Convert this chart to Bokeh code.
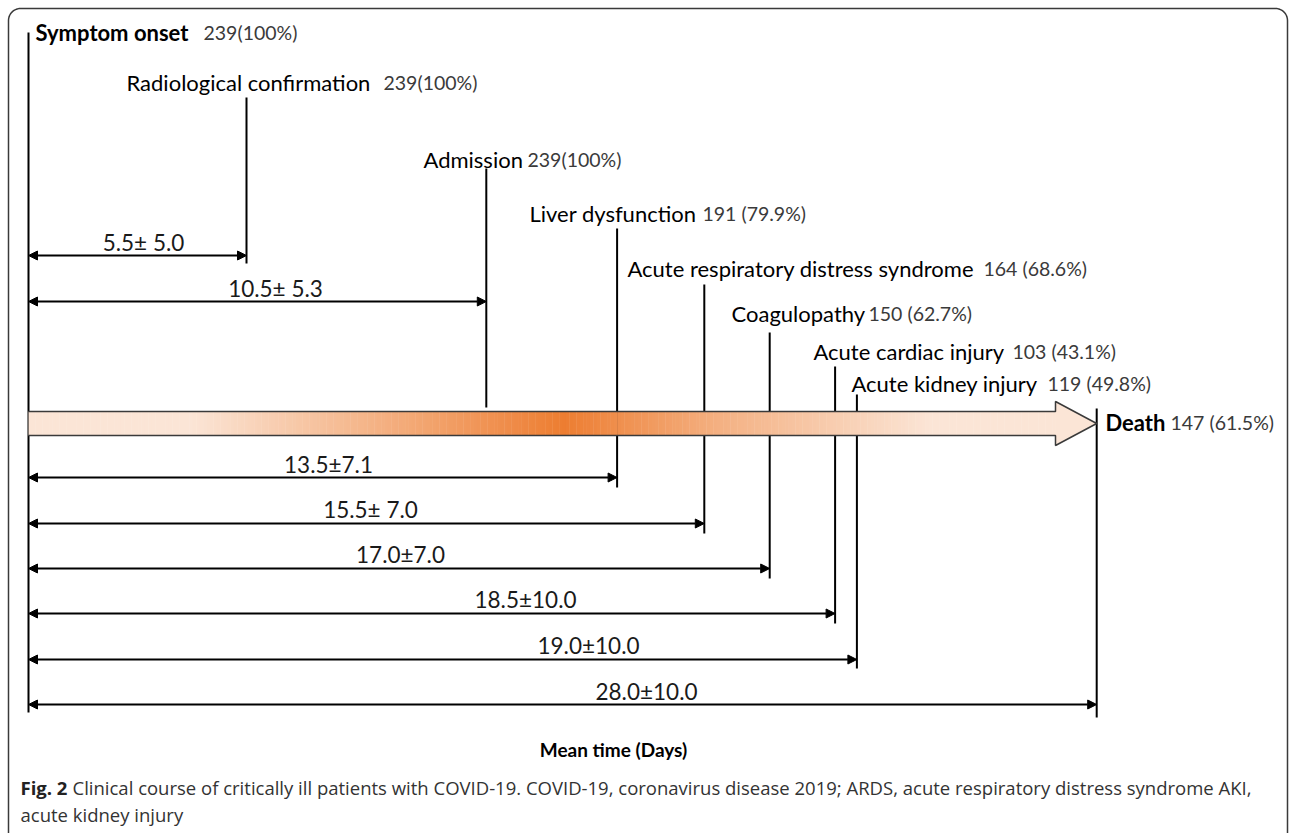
import numpy as np
from bokeh.plotting import figure
from bokeh.models import Range1d, ColumnDataSource, Arrow, NormalHead
from bokeh.core.properties import value
from bokeh.embed import file_html
from bokeh.resources import INLINE

# ---------------- data ----------------
events = ["Symptom onset", "Radiological confirmation", "Admission", "Liver dysfunction",
          "Acute respiratory distress syndrome", "Coagulopathy", "Acute cardiac injury",
          "Acute kidney injury", "Death"]
event_counts = ["239(100%)", "239(100%)", "239(100%)", "191 (79.9%)", "164 (68.6%)",
                "150 (62.7%)", "103 (43.1%)", "119 (49.8%)", "147 (61.5%)"]
mean_days = [0.0, 5.5, 10.5, 13.5, 15.5, 17.0, 18.5, 19.0, 28.0]
sd_days = [0.0, 5.0, 5.3, 7.1, 7.0, 7.0, 10.0, 10.0, 10.0]
interval_labels = ["5.5\u00b1 5.0", "10.5\u00b1 5.3", "13.5\u00b17.1", "15.5\u00b1 7.0",
                   "17.0\u00b17.0", "18.5\u00b110.0", "19.0\u00b110.0", "28.0\u00b110.0"]
# where each event sits on the (schematic, not to scale) drawn time line, in days
timeline_day = [0.0, 5.0, 10.5, 13.5, 15.5, 17.0, 18.5, 19.0, 24.5]
x_title = "Mean time (Days)"
caption_bold = "Fig. 2"
caption_l1 = ("Clinical course of critically ill patients with COVID-19. COVID-19, coronavirus "
              "disease 2019; ARDS, acute respiratory distress syndrome AKI,")
caption_l2 = "acute kidney injury"

# ---------------- layout (page pixels) ----------------
W, H = 1290, 833
PX0, PXD = 28.0, 43.6          # page x of day 0, pixels per drawn day
TDY = -8                       # text baseline correction


def d(px):
    return (px - PX0) / PXD


line_top = [32, 97, 168, 228, 284, 332, 366, 394, 408]
line_bot = [712, 263, 407, 487, 533, 578, 623, 668, 717]
label_x = [35, 126, 423, 529, 627, 731, 813, 851, 1105]
label_y = [40, 90, 167, 221, 276, 321, 359, 391, 430]
count_x = [203, 383, 527, 702, 983, 868, 1012, 1047, 1170]
arrow_y = [255, 301, 477, 523, 568, 613, 659, 704]
ilab_x = [143, 275, 328, 370, 400, 525, 588, 646]
ilab_y = [250, 296, 472, 517, 562, 607, 653, 699]

FONT = "Lato"

p = figure(width=W, height=H, output_backend="svg", toolbar_location=None,
           x_range=Range1d(d(0), d(W)), y_range=Range1d(H, 0),
           min_border=0, outline_line_color=None)
p.axis.visible = False
p.grid.visible = False
p.background_fill_color = "white"
p.border_fill_color = "white"

# rounded frame
r = 12
bx0, bx1, by0, by1 = 8, 1287, 8, 850
t = np.linspace(np.pi, 1.5 * np.pi, 12)
fx = [bx0, bx0] + list(bx0 + r + r * np.cos(t)) + [bx1 - r]
fy = [by1, by0 + r] + list(by0 + r + r * np.sin(t)) + [by0]
t2 = np.linspace(1.5 * np.pi, 2 * np.pi, 12)
fx += list(bx1 - r + r * np.cos(t2)) + [bx1]
fy += list(by0 + r + r * np.sin(t2)) + [by1]
p.line([d(v) for v in fx], fy, line_color="#3a3a3a", line_width=1.5)

# vertical event lines
ev = ColumnDataSource(dict(x=timeline_day, y0=line_top, y1=line_bot))
p.segment(x0="x", y0="y0", x1="x", y1="y1", source=ev, line_color="black", line_width=2)

# big gradient arrow
stops_px = [28, 190, 380, 563, 720, 930, 1097]
stops_col = ["#FBE5D6", "#FBE5D6", "#F4B183", "#ED7D31", "#F4B183", "#FBE5D6", "#FBE5D6"]
rgb = np.array([[int(c[i:i + 2], 16) for i in (1, 3, 5)] for c in stops_col])
head_px = 1055
edges = np.linspace(PX0, head_px, 301)
mids = (edges[:-1] + edges[1:]) / 2
cols = ["#%02x%02x%02x" % tuple(int(round(np.interp(m, stops_px, rgb[:, k]))) for k in range(3))
        for m in mids]
p.quad(left=[d(v) for v in edges[:-1]], right=[d(v) + 0.01 for v in edges[1:]],
       top=[411] * len(mids), bottom=[435] * len(mids), fill_color=cols, line_color=None)
tip = timeline_day[-1]
p.patch([d(head_px), d(head_px), tip, d(head_px), d(head_px)], [411, 401, 423, 445, 435],
        fill_color="#FBE5D6", line_color=None)
p.line([0, d(head_px), d(head_px), tip, d(head_px), d(head_px), 0],
       [411, 411, 401, 423, 445, 435, 435], line_color="#3a3a3a", line_width=1.5)

# interval arrows
arr = ColumnDataSource(dict(xs=[0.0] * 8, xe=timeline_day[1:], y=arrow_y))
p.add_layout(Arrow(x_start="xs", y_start="y", x_end="xe", y_end="y", source=arr,
                   line_color="black", line_width=2,
                   start=NormalHead(size=9, fill_color="black", line_color="black", line_width=1),
                   end=NormalHead(size=9, fill_color="black", line_color="black", line_width=1)))

ilab = ColumnDataSource(dict(x=[d(v) for v in ilab_x], y=[v + TDY for v in ilab_y],
                             t=interval_labels))
p.text(x="x", y="y", text="t", source=ilab, text_font=value(FONT), text_font_size=value("22.5px"),
       text_align="center", text_baseline="alphabetic", text_color="#1a1a1a")

# event labels
bold_idx = [0, len(events) - 1]
norm_idx = [i for i in range(len(events)) if i not in bold_idx]
for idx, style in ((norm_idx, "normal"), (bold_idx, "bold")):
    src = ColumnDataSource(dict(x=[d(label_x[i]) for i in idx], y=[label_y[i] + TDY for i in idx],
                                t=[events[i] for i in idx]))
    p.text(x="x", y="y", text="t", source=src, text_font=value(FONT),
           text_font_size=value("22px"), text_font_style=style, text_align="left",
           text_baseline="alphabetic", text_color="black")
cnt = ColumnDataSource(dict(x=[d(v) for v in count_x], y=[v + TDY for v in label_y],
                            t=event_counts))
p.text(x="x", y="y", text="t", source=cnt, text_font=value(FONT), text_font_size=value("19.5px"),
       text_align="left", text_baseline="alphabetic", text_color="#3a3a3a")

# axis title and caption
p.text(x=[d(613)], y=[757 + TDY], text=[x_title], text_font=value(FONT),
       text_font_size=value("19px"), text_font_style="bold", text_align="center",
       text_baseline="alphabetic", text_color="black")
p.text(x=[d(20)], y=[795 + TDY], text=[caption_bold], text_font=value("Open Sans"),
       text_font_size=value("18.5px"), text_font_style="bold", text_align="left",
       text_baseline="alphabetic", text_color="#222222")
p.text(x=[d(72)], y=[795 + TDY], text=[caption_l1], text_font=value("Open Sans"),
       text_font_size=value("18.5px"), text_align="left", text_baseline="alphabetic",
       text_color="#333333")
p.text(x=[d(20)], y=[822 + TDY], text=[caption_l2], text_font=value("Open Sans"),
       text_font_size=value("18.5px"), text_align="left", text_baseline="alphabetic",
       text_color="#333333")

open("out.html", "w").write(file_html(p, INLINE))
